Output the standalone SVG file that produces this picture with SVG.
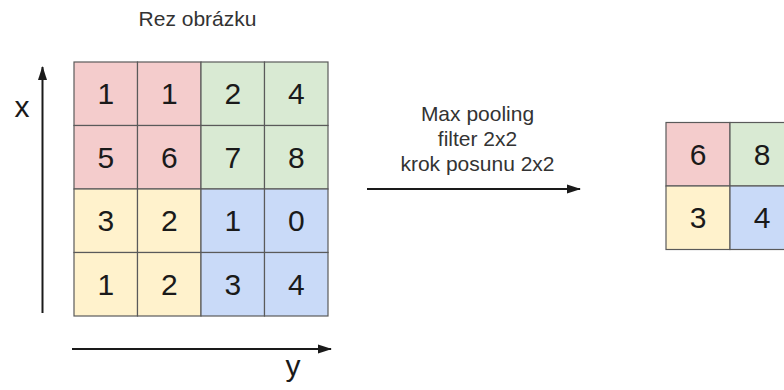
<svg xmlns="http://www.w3.org/2000/svg" width="784" height="390" viewBox="0 0 784 390">
<style>
.cell{stroke:#5a5a5a;stroke-width:1.2}
.r{fill:#f4cccc}.g{fill:#d9ead3}.y{fill:#fff2cc}.b{fill:#c9daf8}
.num{font-family:"Liberation Sans",Arial,sans-serif;font-size:30px;fill:#1a1a1a;text-anchor:middle}
.lbl{font-family:"Liberation Sans",Arial,sans-serif;font-size:21px;fill:#333333;text-anchor:middle}
.ax{font-family:"Liberation Sans",Arial,sans-serif;font-size:30px;fill:#1a1a1a;text-anchor:middle}
.conn{stroke:#1a1a1a;stroke-width:2;fill:none}
</style>
<defs>
<marker id="ah" markerWidth="14" markerHeight="10" refX="13" refY="5" orient="auto" markerUnits="userSpaceOnUse">
<path d="M0,0.5 L14,5 L0,9.5 Z" fill="#1a1a1a"/>
</marker>
</defs>
<rect width="784" height="390" fill="#ffffff"/>
<text class="lbl" x="197.5" y="26">Rez obrázku</text>
<g id="input-grid">
<rect class="cell r" x="74" y="62" width="63.5" height="63.5"/>
<rect class="cell r" x="137.5" y="62" width="63.5" height="63.5"/>
<rect class="cell g" x="201" y="62" width="63.5" height="63.5"/>
<rect class="cell g" x="264.5" y="62" width="63.5" height="63.5"/>
<rect class="cell r" x="74" y="125.5" width="63.5" height="63.5"/>
<rect class="cell r" x="137.5" y="125.5" width="63.5" height="63.5"/>
<rect class="cell g" x="201" y="125.5" width="63.5" height="63.5"/>
<rect class="cell g" x="264.5" y="125.5" width="63.5" height="63.5"/>
<rect class="cell y" x="74" y="189" width="63.5" height="63.5"/>
<rect class="cell y" x="137.5" y="189" width="63.5" height="63.5"/>
<rect class="cell b" x="201" y="189" width="63.5" height="63.5"/>
<rect class="cell b" x="264.5" y="189" width="63.5" height="63.5"/>
<rect class="cell y" x="74" y="252.5" width="63.5" height="63.5"/>
<rect class="cell y" x="137.5" y="252.5" width="63.5" height="63.5"/>
<rect class="cell b" x="201" y="252.5" width="63.5" height="63.5"/>
<rect class="cell b" x="264.5" y="252.5" width="63.5" height="63.5"/>
<text class="num" x="105.75" y="104">1</text>
<text class="num" x="169.25" y="104">1</text>
<text class="num" x="232.75" y="104">2</text>
<text class="num" x="296.25" y="104">4</text>
<text class="num" x="105.75" y="167.5">5</text>
<text class="num" x="169.25" y="167.5">6</text>
<text class="num" x="232.75" y="167.5">7</text>
<text class="num" x="296.25" y="167.5">8</text>
<text class="num" x="105.75" y="231">3</text>
<text class="num" x="169.25" y="231">2</text>
<text class="num" x="232.75" y="231">1</text>
<text class="num" x="296.25" y="231">0</text>
<text class="num" x="105.75" y="294.5">1</text>
<text class="num" x="169.25" y="294.5">2</text>
<text class="num" x="232.75" y="294.5">3</text>
<text class="num" x="296.25" y="294.5">4</text>
</g>
<g id="output-grid">
<rect class="cell r" x="666" y="122.5" width="64" height="63.5"/>
<rect class="cell g" x="730" y="122.5" width="64" height="63.5"/>
<rect class="cell y" x="666" y="186" width="64" height="63.5"/>
<rect class="cell b" x="730" y="186" width="64" height="63.5"/>
<text class="num" x="698" y="164.5">6</text>
<text class="num" x="762" y="164.5">8</text>
<text class="num" x="698" y="228">3</text>
<text class="num" x="762" y="228">4</text>
</g>
<g id="axis-x">
<text class="ax" x="22" y="117">x</text>
</g>
<g id="axis-y">
<text class="ax" x="293" y="376">y</text>
</g>
<g id="op-label">
<text class="lbl" x="477.5" y="121">Max pooling</text>
<text class="lbl" x="477.5" y="146">filter 2x2</text>
<text class="lbl" x="477.5" y="171">krok posunu 2x2</text>
</g>
<g id="connectors">
<line class="conn" x1="42.5" y1="313" x2="42.5" y2="67" marker-end="url(#ah)"/>
<line class="conn" x1="72" y1="349" x2="331" y2="349" marker-end="url(#ah)"/>
<line class="conn" x1="367" y1="189" x2="580" y2="189" marker-end="url(#ah)"/>
</g>
</svg>
